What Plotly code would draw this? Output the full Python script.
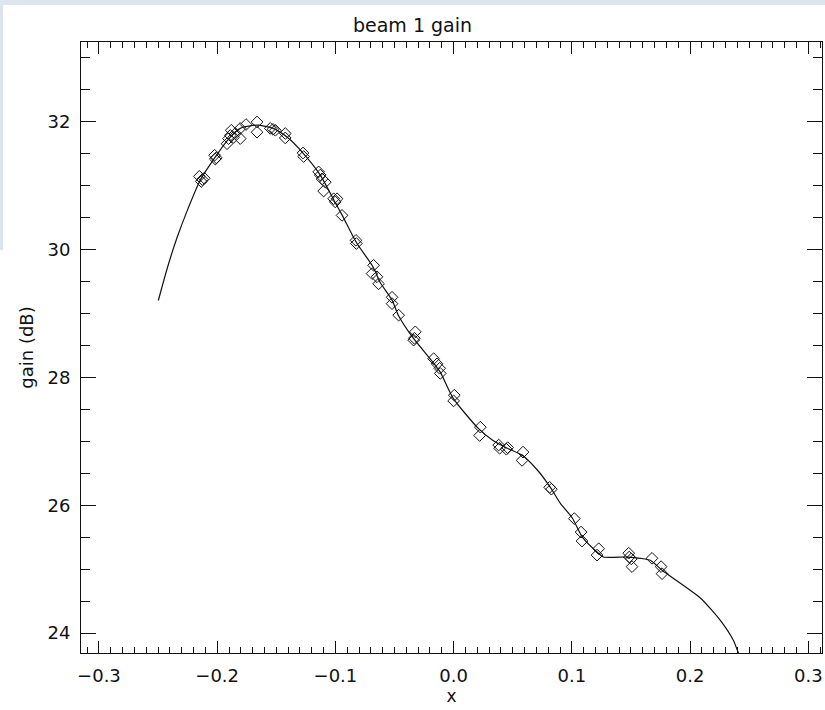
import plotly.graph_objects as go

# fitted curve (x, gain dB)
curve_x = [-0.2498, -0.2420, -0.2340, -0.2250, -0.2144, -0.2017, -0.1915, -0.1805,
           -0.1661, -0.1526, -0.1407, -0.1272, -0.1128, -0.1001, -0.0942, -0.0824,
           -0.0680, -0.0621, -0.0519, -0.0468, -0.0341, -0.0172, -0.0113, -0.0003,
           0.0209, 0.0327, 0.0454, 0.0581, 0.0708, 0.0818, 0.0903, 0.1004, 0.1089,
           0.1224, 0.1267, 0.1470, 0.1580, 0.1664, 0.1766, 0.2087, 0.2256, 0.2366,
           0.2409, 0.2440]
curve_y = [29.20, 29.72, 30.18, 30.62, 31.08, 31.44, 31.70, 31.89,
           31.94, 31.89, 31.75, 31.50, 31.16, 30.73, 30.53, 30.11,
           29.72, 29.48, 29.20, 28.97, 28.61, 28.23, 28.08, 27.67,
           27.20, 27.02, 26.89, 26.78, 26.55, 26.28, 26.03, 25.80, 25.50,
           25.25, 25.19, 25.19, 25.17, 25.14, 24.98, 24.55, 24.20, 23.89,
           23.69, 23.55]

# measured points
pts_x = [-0.2151, -0.2126, -0.2135, -0.2109, -0.2022, -0.2008, -0.2016, -0.1881,
         -0.1904, -0.1917, -0.1889, -0.1805, -0.1847, -0.1805, -0.1756, -0.1663,
         -0.1663, -0.1861, -0.1551, -0.1528, -0.1508, -0.1424, -0.1424, -0.1274,
         -0.1269, -0.1142, -0.1128, -0.1113, -0.1085, -0.1100, -0.1015, -0.1001,
         -0.0986, -0.0944, -0.0826, -0.0823, -0.0677, -0.0690, -0.0648, -0.0635,
         -0.0521, -0.0521, -0.0465, -0.0324, -0.0338, -0.0332, -0.0169, -0.0140,
         -0.0118, -0.0113, 0.0006, 0.0000, 0.0226, 0.0220, 0.0381, 0.0389,
         0.0457, 0.0446, 0.0587, 0.0579, 0.0812, 0.0827, 0.1021, 0.1078,
         0.1086, 0.1227, 0.1213, 0.1481, 0.1486, 0.1503, 0.1509, 0.1678,
         0.1755, 0.1763]
pts_y = [31.14, 31.09, 31.06, 31.11, 31.47, 31.43, 31.41, 31.86,
         31.73, 31.65, 31.78, 31.73, 31.81, 31.89, 31.95, 31.99,
         31.83, 31.75, 31.89, 31.875, 31.86, 31.81, 31.74, 31.505,
         31.45, 31.21, 31.16, 31.10, 31.05, 30.91, 30.79, 30.74,
         30.79, 30.53, 30.14, 30.09, 29.75, 29.62, 29.57, 29.46,
         29.25, 29.15, 28.97, 28.71, 28.58, 28.61, 28.29, 28.21,
         28.14, 28.06, 27.72, 27.63, 27.22, 27.09, 26.94, 26.89,
         26.90, 26.875, 26.83, 26.70, 26.28, 26.25, 25.79, 25.58,
         25.44, 25.32, 25.22, 25.25, 25.19, 25.16, 25.04, 25.17,
         25.04, 24.93]

title_text = "beam 1 gain"
x_title = "x"
y_title = "gain (dB)"

FONT = "DejaVu Sans"
INK = "#111111"

fig = go.Figure()
fig.add_trace(go.Scatter(x=curve_x, y=curve_y, mode="lines",
                         line=dict(color=INK, width=1.2, shape="spline", smoothing=0.6),
                         showlegend=False, hoverinfo="skip"))
fig.add_trace(go.Scatter(x=pts_x, y=pts_y, mode="markers",
                         marker=dict(symbol="diamond-open", size=9, color=INK,
                                     line=dict(color=INK, width=1)),
                         showlegend=False))

axis_common = dict(showgrid=False, zeroline=False, showline=True, linecolor=INK,
                   linewidth=1, mirror="ticks", ticks="inside", tickcolor=INK,
                   tickwidth=1, tickfont=dict(family=FONT, size=18, color=INK))

fig.update_xaxes(range=[-0.3152, 0.3116], dtick=0.1, tick0=0, tickformat=".1f",
                 ticklen=12, ticklabelstandoff=6,
                 minor=dict(dtick=0.01, ticklen=6, ticks="inside", tickcolor=INK, tickwidth=1),
                 title=dict(text=x_title, font=dict(family=FONT, size=17, color=INK), standoff=3),
                 **axis_common)
fig.update_yaxes(range=[23.69, 33.24], dtick=2, tick0=0, ticklen=15, ticklabelstandoff=6,
                 minor=dict(dtick=0.5, ticklen=9, ticks="inside", tickcolor=INK, tickwidth=1),
                 title=dict(text=y_title, font=dict(family=FONT, size=18, color=INK), standoff=9),
                 **axis_common)

# thin window-chrome strips seen along the top and left edges of the screenshot
fig.add_shape(type="rect", xref="paper", yref="paper",
              x0=-81/741, x1=1 + 3/741, y0=1 + 37/611, y1=1 + 42/611,
              fillcolor="#dfe5ef", line=dict(width=0), layer="below")
fig.add_shape(type="rect", xref="paper", yref="paper",
              x0=-81/741, x1=-78/741, y0=1 + 42/611 - 250/611, y1=1 + 37/611,
              fillcolor="#dbe3f1", line=dict(width=0), layer="below")

fig.update_layout(
    width=825, height=710,
    margin=dict(l=81, r=3, t=42, b=57),
    paper_bgcolor="white", plot_bgcolor="white",
    title=dict(text=title_text, x=0.5, xanchor="center", y=1 - 25/710, yanchor="middle",
               font=dict(family=FONT, size=19, color=INK)),
)

fig.write_html("out.html", config={"displayModeBar": False},
               post_script="document.body.style.margin='0px';document.body.style.overflow='hidden';")
